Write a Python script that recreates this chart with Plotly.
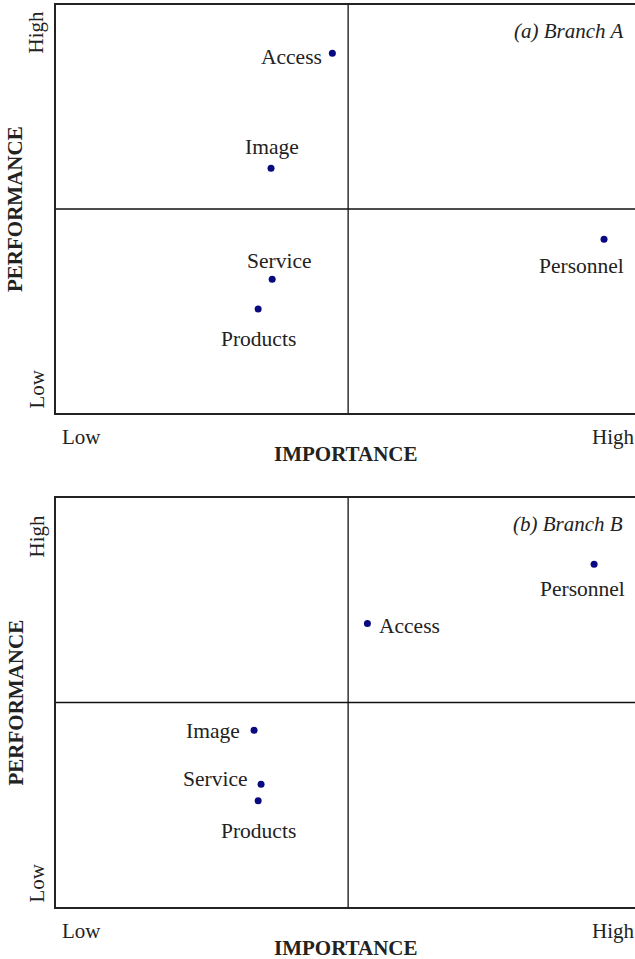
import plotly.graph_objects as go

# ---- data ----
factors_a = ["Access", "Image", "Service", "Products", "Personnel"]
importance_a = [4.73, 3.68, 3.70, 3.46, 9.38]
performance_a = [8.82, 6.00, 3.28, 2.55, 4.26]

factors_b = ["Personnel", "Access", "Image", "Service", "Products"]
importance_b = [9.21, 5.33, 3.39, 3.51, 3.46]
performance_b = [8.38, 6.93, 4.32, 3.00, 2.60]

panel_titles = ["(a) Branch A", "(b) Branch B"]
x_tick_labels = ["Low", "High"]
y_tick_labels = ["Low", "High"]
x_title = "IMPORTANCE"
y_title = "PERFORMANCE"

# label placement (anchor, xshift, yshift) per factor, per panel
label_place_a = {
    "Access": ("right", -8, -4),
    "Image": ("center", 1, 21),
    "Service": ("center", 7, 18),
    "Products": ("center", 0, -30),
    "Personnel": ("center", -23, -27),
}
label_place_b = {
    "Personnel": ("center", -12, -25),
    "Access": ("left", 10, -2),
    "Image": ("right", -12, -1),
    "Service": ("right", -12, 5),
    "Products": ("center", 0, -30),
}

FONT = "Liberation Serif, Times New Roman, serif"
W, H = 635, 959
XR = [0, 9.91]
YR = [0, 10]
MID = 5

fig = go.Figure()

panels = [
    (importance_a, performance_a, factors_a, label_place_a, "x", "y", -4),
    (importance_b, performance_b, factors_b, label_place_b, "x2", "y2", -15),
]

left_px = 56
annotations = []
shapes = []
for i, (xs, ys, names, place, xa, ya, high_shift) in enumerate(panels):
    fig.add_trace(go.Scatter(
        x=xs, y=ys, mode="markers", xaxis=xa, yaxis=ya,
        marker=dict(size=7, color="#0a0a80"), hoverinfo="text", text=names,
        showlegend=False,
    ))
    for n, xv, yv in zip(names, xs, ys):
        anchor, dx, dy = place[n]
        annotations.append(dict(
            x=xv, y=yv, xref=xa, yref=ya, text=n, showarrow=False,
            xanchor=anchor, yanchor="middle", xshift=dx, yshift=dy,
            font=dict(family=FONT, size=21.5, color="#222"),
        ))
    # mid lines
    shapes.append(dict(type="line", xref=xa, yref=ya, x0=MID, x1=MID, y0=YR[0], y1=YR[1],
                       line=dict(color="#111", width=1.3)))
    shapes.append(dict(type="line", xref=xa, yref=ya, x0=XR[0], x1=XR[1], y0=MID, y1=MID,
                       line=dict(color="#111", width=1.3)))
    # panel title
    annotations.append(dict(
        x=XR[1], y=YR[1], xref=xa, yref=ya, text=panel_titles[i], showarrow=False,
        xanchor="right", yanchor="top", xshift=-10, yshift=-12,
        font=dict(family=FONT, size=21, color="#222", style="italic"),
    ))
    # x tick labels
    annotations.append(dict(
        x=XR[0], y=YR[0], xref=xa, yref=ya, text=x_tick_labels[0], showarrow=False,
        xanchor="left", yanchor="top", xshift=4, yshift=-10,
        font=dict(family=FONT, size=21, color="#222"),
    ))
    annotations.append(dict(
        x=XR[1], y=YR[0], xref=xa, yref=ya, text=x_tick_labels[1], showarrow=False,
        xanchor="right", yanchor="top", xshift=2, yshift=-10,
        font=dict(family=FONT, size=21, color="#222"),
    ))
    # x title
    annotations.append(dict(
        x=MID, y=YR[0], xref=xa, yref=ya, text="<b>" + x_title + "</b>", showarrow=False,
        xanchor="center", yanchor="top", xshift=-2, yshift=-27,
        font=dict(family=FONT, size=21, color="#222"),
    ))
    # y tick labels (rotated)
    annotations.append(dict(
        x=XR[0], y=YR[0], xref=xa, yref=ya, text=y_tick_labels[0], showarrow=False,
        textangle=-90, xanchor="right", yanchor="bottom", xshift=-6, yshift=2,
        font=dict(family=FONT, size=21, color="#222"),
    ))
    annotations.append(dict(
        x=XR[0], y=YR[1], xref=xa, yref=ya, text=y_tick_labels[1], showarrow=False,
        textangle=-90, xanchor="right", yanchor="top", xshift=-6, yshift=high_shift,
        font=dict(family=FONT, size=21, color="#222"),
    ))
    # y title
    annotations.append(dict(
        x=XR[0], y=MID, xref=xa, yref=ya, text="<b>" + y_title + "</b>", showarrow=False,
        textangle=-90, xanchor="center", yanchor="middle", xshift=-41,
        font=dict(family=FONT, size=21, color="#222"),
    ))

x_dom = [left_px / W, 1.0]
y_dom_a = [1 - 413 / H, 1 - 5 / H]
y_dom_b = [1 - 907 / H, 1 - 498 / H]

axis_common = dict(showgrid=False, zeroline=False, showticklabels=False, ticks="",
                   showline=True, linecolor="#222", linewidth=1.5)

fig.update_layout(
    width=W, height=H,
    margin=dict(l=0, r=0, t=0, b=0),
    paper_bgcolor="white", plot_bgcolor="white",
    xaxis=dict(domain=x_dom, range=XR, anchor="y", mirror=True, **axis_common),
    yaxis=dict(domain=y_dom_a, range=YR, anchor="x", mirror=False, **axis_common),
    xaxis2=dict(domain=x_dom, range=XR, anchor="y2", mirror=True, **axis_common),
    yaxis2=dict(domain=y_dom_b, range=YR, anchor="x2", mirror=False, **axis_common),
    annotations=annotations,
    shapes=shapes,
)

fig.write_html(
    "out.html",
    config={"displayModeBar": False},
    post_script="document.body.style.margin='0';document.body.style.overflow='hidden';",
)
